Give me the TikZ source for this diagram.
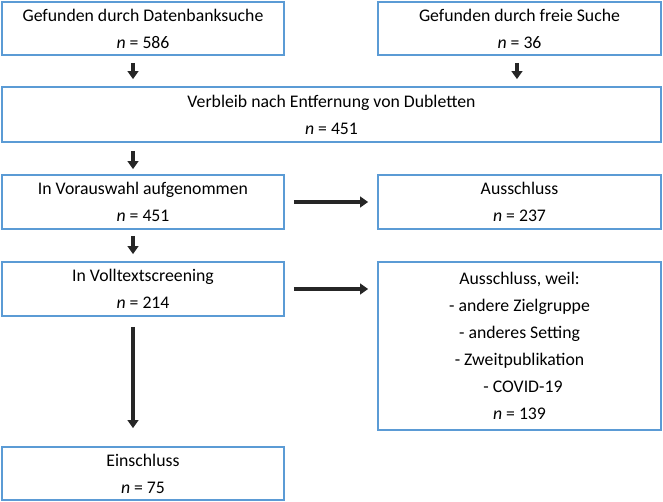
\documentclass[tikz,border=0pt]{standalone}
\usepackage{fontspec}
\setmainfont{Carlito}
\usetikzlibrary{arrows.meta}
\definecolor{boxblue}{HTML}{5B9BD5}
\definecolor{arrowcol}{HTML}{262626}
\begin{document}
\begin{tikzpicture}[x=0.75pt,y=-0.75pt,
  box/.style={draw=boxblue,line width=1.3pt,rectangle,inner sep=0pt,
    align=center,font=\fontsize{13.3}{20.25}\selectfont},
  arr/.style={draw=arrowcol,line width=3pt,-{Triangle[length=6pt,width=8pt]}}]
\useasboundingbox (0,0) rectangle (663,502);
\node[box,minimum width=211.5pt,minimum height=39.75pt] (b1) at (143,28.5)
  {Gefunden durch Datenbanksuche\\\textit{n} = 586};
\node[box,minimum width=212.25pt,minimum height=39.75pt] (b2) at (519.5,28.5)
  {Gefunden durch freie Suche\\\textit{n} = 36};
\node[box,minimum width=494.25pt,minimum height=41.25pt] (b3) at (331.5,114.5)
  {Verbleib nach Entfernung von Dubletten\\\textit{n} = 451};
\node[box,minimum width=211.5pt,minimum height=40.5pt] (b4) at (143,202)
  {In Vorauswahl aufgenommen\\\textit{n} = 451};
\node[box,minimum width=212.25pt,minimum height=40.5pt] (b5) at (519.5,202)
  {Ausschluss\\\textit{n} = 237};
\node[box,minimum width=211.5pt,minimum height=40.5pt] (b6) at (143,289)
  {In Volltextscreening\\\textit{n} = 214};
\node[box,minimum width=212.25pt,minimum height=126pt] (b7) at (519.5,346)
  {Ausschluss, weil:\\- andere Zielgruppe\\- anderes Setting\\- Zweitpublikation\\\hspace*{5.25pt}- COVID-19\\\textit{n} = 139};
\node[box,minimum width=211.5pt,minimum height=39.75pt] (b8) at (143,473.5)
  {Einschluss\\\textit{n} = 75};
% arrows
\draw[arr,shorten <=5.25pt,shorten >=5.25pt] ([xshift=-7.5pt]b1.south) -- ([xshift=-7.5pt]b1.south |- b3.north);
\draw[arr,shorten <=5.25pt,shorten >=5.25pt] ([xshift=-1.9pt]b2.south) -- ([xshift=-1.9pt]b2.south |- b3.north);
\draw[arr,shorten <=6pt,shorten >=3.75pt] ([xshift=-7.5pt]b1.south |- b3.south) -- ([xshift=-7.5pt]b4.north);
\draw[arr,shorten <=4.5pt,shorten >=5.25pt] ([xshift=-7.5pt]b4.south) -- ([xshift=-7.5pt]b6.north);
\draw[arr,shorten <=7.5pt,shorten >=13.5pt] ([xshift=-7.5pt]b6.south) -- ([xshift=-7.5pt]b8.north);
\draw[arr,shorten <=6.75pt,shorten >=6.75pt] (b4.east) -- (b5.west);
\draw[arr,shorten <=6.75pt,shorten >=6.75pt] (b6.east) -- (b6.east -| b7.west);
\end{tikzpicture}
\end{document}
